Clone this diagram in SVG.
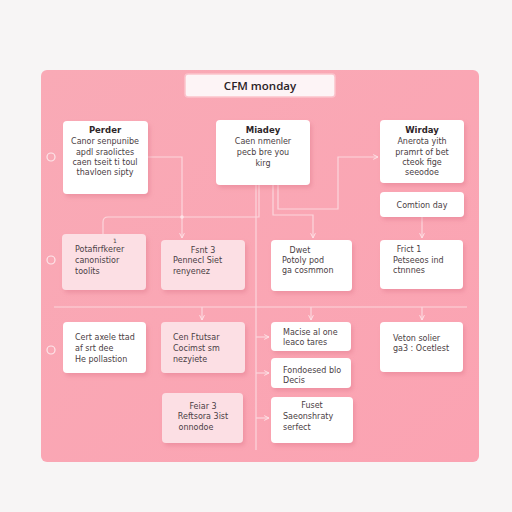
<svg xmlns="http://www.w3.org/2000/svg" width="512" height="512" viewBox="0 0 512 512">
<defs>
<filter id="sh" x="-20%" y="-20%" width="150%" height="150%">
<feDropShadow dx="2" dy="3" stdDeviation="2" flood-color="#d86a80" flood-opacity="0.35"/>
</filter>
<marker id="ar" viewBox="0 0 10 10" refX="9" refY="5" markerWidth="5" markerHeight="5" orient="auto">
<path d="M1,1 L9,5 L1,9" fill="none" stroke="#fde3e7" stroke-width="1.6"/>
</marker>
<linearGradient id="bg" x1="0" y1="0" x2="1" y2="1">
<stop offset="0" stop-color="#f9aab6"/>
<stop offset="1" stop-color="#fba3b2"/>
</linearGradient>
</defs>
<style>
.n{fill:#ffffff;filter:url(#sh)}
.p{fill:#fcdfe4;filter:url(#sh)}
text{font-family:"DejaVu Sans","Liberation Sans",sans-serif;font-size:8px;fill:#4a4044}
.b{font-weight:bold;font-size:8.5px;fill:#2e2629}
.c{text-anchor:middle}
.l{fill:none;stroke:#fcd6dc;stroke-width:1.2}
</style>
<rect width="512" height="512" fill="#f7f5f5"/>
<rect x="41" y="70" width="438" height="392" rx="6" fill="url(#bg)"/>
<g id="title">
<rect x="185" y="74" width="150" height="23" rx="3" fill="#fdf4f6" stroke="#fbc3cc" stroke-width="1.5"/>
<text x="260" y="89.5" class="c" style="font-family:'Open Sans','DejaVu Sans',sans-serif;font-size:11.5px;font-weight:600;fill:#2a2226">CFM monday</text>
</g>
<g id="rings" fill="none" stroke="#fde6ea" stroke-width="1.2">
<circle cx="51" cy="157" r="4"/>
<circle cx="51" cy="260" r="4"/>
<circle cx="51" cy="350" r="4"/>
</g>
<g id="connectors">
<path class="l" d="M54,307 H467"/>
<path class="l" d="M256,185 V450"/>
<path class="l" d="M148,157 H182 V238" marker-end="url(#ar)"/>
<path class="l" d="M259,185 V217 H108 Q103,217 103,222 V234"/>
<path class="l" d="M273,185 V215 H313 V238" marker-end="url(#ar)"/>
<path class="l" d="M278,185 V209 H338 V157 H378" marker-end="url(#ar)"/>
<path class="l" d="M422,217 V238" marker-end="url(#ar)"/>
<path class="l" d="M202,307 V320" marker-end="url(#ar)"/>
<path class="l" d="M311,307 V320" marker-end="url(#ar)"/>
<path class="l" d="M422,307 V320" marker-end="url(#ar)"/>
<path class="l" d="M256,337 H269" marker-end="url(#ar)"/>
<path class="l" d="M256,373 H269" marker-end="url(#ar)"/>
<path class="l" d="M256,418 H269" marker-end="url(#ar)"/>
<circle cx="182" cy="217" r="1.8" fill="#fde3e7"/>
</g>
<g id="perder">
<rect class="n" x="63" y="121" width="85" height="73" rx="4"/>
<text x="105" y="133" class="c b">Perder</text>
<text x="105" y="144" class="c">Canor senpunibe</text>
<text x="105" y="155" class="c">apdl sraolictes</text>
<text x="105" y="165" class="c">caen tseit ti toul</text>
<text x="105" y="175" class="c">thavloen sipty</text>
</g>
<g id="miadey">
<rect class="n" x="216" y="120" width="94" height="65" rx="4"/>
<text x="263" y="133" class="c b">Miadey</text>
<text x="263" y="144" class="c">Caen nmenler</text>
<text x="263" y="155" class="c">pecb bre you</text>
<text x="263" y="166" class="c">kirg</text>
</g>
<g id="wirday">
<rect class="n" x="380" y="120" width="84" height="63" rx="4"/>
<text x="422" y="133" class="c b">Wirday</text>
<text x="422" y="144" class="c">Anerota yith</text>
<text x="422" y="155" class="c">pramrt of bet</text>
<text x="422" y="165" class="c">cteok fige</text>
<text x="422" y="175" class="c">seeodoe</text>
</g>
<g id="comtion">
<rect class="n" x="380" y="192" width="84" height="25" rx="4"/>
<text x="422" y="208" class="c">Comtion day</text>
</g>
<g id="nodeA">
<rect class="p" x="62" y="234" width="84" height="56" rx="4"/>
<text x="115" y="243" class="c" style="font-size:6px">1</text>
<text x="75" y="252">Potafirfkerer</text>
<text x="75" y="263">canonistior</text>
<text x="75" y="274">toolits</text>
</g>
<g id="nodeB">
<rect class="p" x="161" y="240" width="84" height="50" rx="4"/>
<text x="203" y="253" class="c">Fsnt 3</text>
<text x="173" y="263">Pennecl Siet</text>
<text x="173" y="274">renyenez</text>
</g>
<g id="nodeC">
<rect class="n" x="271" y="240" width="81" height="51" rx="4"/>
<text x="300" y="253" class="c">Dwet</text>
<text x="282" y="263">Potoly pod</text>
<text x="282" y="273">ga cosmmon</text>
</g>
<g id="nodeD">
<rect class="n" x="380" y="240" width="83" height="49" rx="4"/>
<text x="409" y="252" class="c">Frict 1</text>
<text x="393" y="263">Petseeos ind</text>
<text x="393" y="273">ctnnnes</text>
</g>
<g id="nodeE">
<rect class="n" x="63" y="322" width="83" height="51" rx="4"/>
<text x="75" y="340">Cert axele ttad</text>
<text x="75" y="351">af srt dee</text>
<text x="75" y="362">He pollastion</text>
</g>
<g id="nodeF">
<rect class="p" x="161" y="322" width="84" height="51" rx="4"/>
<text x="173" y="340">Cen Ftutsar</text>
<text x="173" y="351">Cocimst sm</text>
<text x="173" y="362">nezyiete</text>
</g>
<g id="nodeG">
<rect class="n" x="271" y="322" width="80" height="29" rx="4"/>
<text x="283" y="335">Macise al one</text>
<text x="283" y="345">leaco tares</text>
</g>
<g id="nodeH">
<rect class="n" x="271" y="358" width="80" height="30" rx="4"/>
<text x="283" y="373">Fondoesed blo</text>
<text x="283" y="383">Decis</text>
</g>
<g id="nodeI">
<rect class="n" x="380" y="322" width="83" height="50" rx="4"/>
<text x="393" y="341">Veton solier</text>
<text x="393" y="351">ga3 : Ocetlest</text>
</g>
<g id="nodeJ">
<rect class="p" x="162" y="393" width="81" height="50" rx="4"/>
<text x="203" y="409" class="c">Feiar 3</text>
<text x="203" y="419" class="c">Reftsora 3ist</text>
<text x="196" y="430" class="c">onnodoe</text>
</g>
<g id="nodeK">
<rect class="n" x="271" y="397" width="82" height="46" rx="4"/>
<text x="312" y="408" class="c">Fuset</text>
<text x="283" y="419">Saeonshraty</text>
<text x="283" y="430">serfect</text>
</g>
</svg>
